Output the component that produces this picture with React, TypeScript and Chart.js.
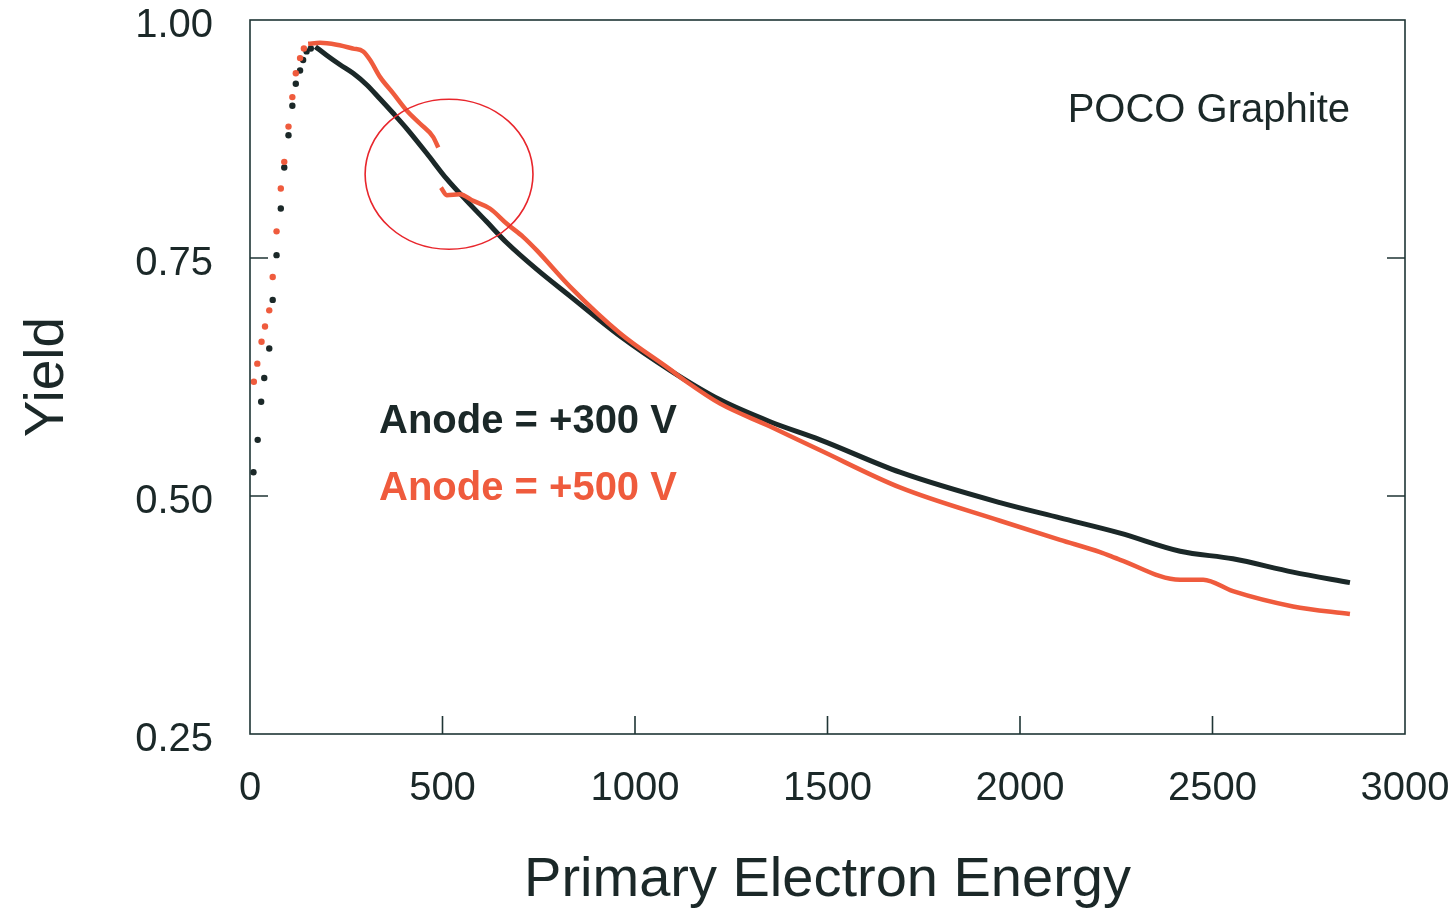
import { useEffect, useRef } from "react";
import { Chart, registerables } from "chart.js";

Chart.register(...registerables);

// ---- Data ----
// Anode = +300 V : sparse dots at low energy, then continuous curve
const energyDots300 = [9, 20, 29, 37, 50, 59, 69, 80, 89, 100, 110, 119, 130, 138, 147, 158];
const yieldDots300 = [0.525, 0.559, 0.599, 0.624, 0.655, 0.706, 0.753, 0.802, 0.845, 0.879, 0.91, 0.933, 0.947, 0.958, 0.967, 0.97];
const energyCurve300 = [170, 199, 234, 268, 303, 338, 372, 407, 459, 511, 563, 615, 667, 745, 831, 961, 1091, 1221, 1351, 1481, 1688, 1948, 2104, 2260, 2416, 2553, 2709, 2857];
const yieldCurve300 = [0.972, 0.963, 0.953, 0.944, 0.932, 0.917, 0.902, 0.886, 0.86, 0.833, 0.81, 0.788, 0.766, 0.738, 0.71, 0.668, 0.632, 0.601, 0.578, 0.559, 0.525, 0.493, 0.477, 0.461, 0.442, 0.434, 0.42, 0.409];

// Anode = +500 V
const energyDots500 = [10, 19, 30, 39, 50, 59, 69, 80, 89, 100, 110, 119, 130, 140];
const yieldDots500 = [0.62, 0.639, 0.662, 0.678, 0.695, 0.73, 0.778, 0.823, 0.851, 0.888, 0.919, 0.944, 0.96, 0.97];
const energyCurve500 = [151, 182, 225, 268, 294, 312, 338, 372, 407, 442, 476, 489, 491, 496, 511, 545, 580, 623, 667, 710, 745, 831, 961, 1091, 1134, 1221, 1351, 1481, 1688, 1948, 2104, 2208, 2260, 2416, 2476, 2553, 2709, 2857];
const yieldCurve500: (number | null)[] = [0.975, 0.976, 0.974, 0.97, 0.967, 0.958, 0.94, 0.923, 0.905, 0.891, 0.877, 0.866, null, 0.824, 0.816, 0.817, 0.81, 0.802, 0.786, 0.772, 0.758, 0.72, 0.671, 0.633, 0.62, 0.597, 0.573, 0.548, 0.509, 0.474, 0.454, 0.441, 0.433, 0.412, 0.412, 0.4, 0.384, 0.376];

// Axis ticks
const xTickStep = 500;
const yTickStep = 0.25;
const xRange = [0, 3000];
const yRange = [0.25, 1.0];

// Highlight ellipse (data units): centre energy, centre yield, radius energy, radius yield
const circleSpec = [517, 0.838, 218, 0.0788];

// Labels
const seriesLabels = ["Anode = +300 V", "Anode = +500 V"];
const sampleLabel = "POCO Graphite";
const xTitle = "Primary Electron Energy";
const yTitle = "Yield";

const BLACK = "#1b2828";
const RED = "#ef5b3d";
const FONT = "'Liberation Sans', Arial, Helvetica, sans-serif";

const zip = (xs: number[], ys: (number | null)[]) => xs.map((x, i) => ({ x, y: ys[i] }));

const overlayPlugin = {
  id: "overlay",
  afterDatasetsDraw(chart: any) {
    const { ctx, chartArea: a, scales } = chart;
    const xs = scales.x;
    const ys = scales.y;
    ctx.save();

    // highlight ellipse
    const cx = xs.getPixelForValue(circleSpec[0]);
    const cy = ys.getPixelForValue(circleSpec[1]);
    const rx = xs.getPixelForValue(circleSpec[0] + circleSpec[2]) - cx;
    const ry = cy - ys.getPixelForValue(circleSpec[1] + circleSpec[3]);
    ctx.strokeStyle = "#e8262c";
    ctx.lineWidth = 1.6;
    ctx.beginPath();
    ctx.ellipse(cx, cy, rx, ry, 0, 0, Math.PI * 2);
    ctx.stroke();

    // frame
    ctx.strokeStyle = "#1f3535";
    ctx.lineWidth = 1.6;
    ctx.strokeRect(a.left, a.top, a.right - a.left, a.bottom - a.top);

    // inward ticks
    const tl = 18;
    ctx.beginPath();
    xs.ticks.forEach((t: any) => {
      if (t.value <= xs.min || t.value >= xs.max) return;
      const px = xs.getPixelForValue(t.value);
      ctx.moveTo(px, a.bottom);
      ctx.lineTo(px, a.bottom - tl);
    });
    ys.ticks.forEach((t: any) => {
      if (t.value <= ys.min || t.value >= ys.max) return;
      const py = ys.getPixelForValue(t.value);
      ctx.moveTo(a.left, py);
      ctx.lineTo(a.left + tl, py);
      ctx.moveTo(a.right, py);
      ctx.lineTo(a.right - tl, py);
    });
    ctx.stroke();

    // annotations
    ctx.textBaseline = "alphabetic";
    ctx.fillStyle = BLACK;
    ctx.font = `40px ${FONT}`;
    ctx.textAlign = "right";
    ctx.fillText(sampleLabel, a.right - 55, a.top + 102);

    ctx.textAlign = "left";
    ctx.font = `bold 40px ${FONT}`;
    ctx.fillStyle = BLACK;
    ctx.fillText(seriesLabels[0], a.left + 129, a.top + 413);
    ctx.fillStyle = RED;
    ctx.fillText(seriesLabels[1], a.left + 129, a.top + 480);

    ctx.restore();
  },
};

const noPad = (s: any) => {
  s.paddingTop = 0;
  s.paddingBottom = 0;
  s.paddingLeft = 0;
  s.paddingRight = 0;
};

export default function App() {
  const ref = useRef<HTMLCanvasElement | null>(null);

  useEffect(() => {
    if (!ref.current) return;
    const chart = new Chart(ref.current, {
      type: "scatter",
      data: {
        datasets: [
          {
            label: seriesLabels[1] + " curve",
            data: zip(energyCurve500, yieldCurve500) as any,
            showLine: true,
            spanGaps: false,
            borderColor: RED,
            borderWidth: 4.5,
            pointRadius: 0,
            cubicInterpolationMode: "monotone",
          },
          {
            label: seriesLabels[1],
            data: zip(energyDots500, yieldDots500) as any,
            showLine: false,
            pointRadius: 3.2,
            pointBorderWidth: 0,
            backgroundColor: RED,
            borderColor: RED,
          },
          {
            label: seriesLabels[0] + " curve",
            data: zip(energyCurve300, yieldCurve300) as any,
            showLine: true,
            borderColor: BLACK,
            borderWidth: 5,
            pointRadius: 0,
            cubicInterpolationMode: "monotone",
          },
          {
            label: seriesLabels[0],
            data: zip(energyDots300, yieldDots300) as any,
            showLine: false,
            pointRadius: 3.2,
            pointBorderWidth: 0,
            backgroundColor: BLACK,
            borderColor: BLACK,
          },
        ],
      },
      options: {
        responsive: false,
        animation: false,
        events: [],
        layout: { padding: { top: 20, right: 49, left: 0, bottom: 0 } },
        plugins: {
          legend: { display: false },
          tooltip: { enabled: false },
        },
        scales: {
          x: {
            type: "linear",
            min: xRange[0],
            max: xRange[1],
            grid: { display: false, drawTicks: false },
            border: { display: false },
            ticks: {
              stepSize: xTickStep,
              padding: 31,
              color: BLACK,
              font: { family: FONT, size: 40 },
              maxRotation: 0,
              autoSkip: false,
              callback: (v: any) => String(v),
            },
            title: {
              display: true,
              text: xTitle,
              color: BLACK,
              font: { family: FONT, size: 56, lineHeight: 1.1 },
              padding: { top: 0, bottom: 0 },
            },
            afterFit: (s: any) => {
              s.height = 177;
              noPad(s);
            },
          },
          y: {
            type: "linear",
            min: yRange[0],
            max: yRange[1],
            grid: { display: false, drawTicks: false },
            border: { display: false },
            ticks: {
              stepSize: yTickStep,
              padding: 37,
              labelOffset: 6,
              color: BLACK,
              font: { family: FONT, size: 40 },
              autoSkip: false,
              callback: (v: any) => Number(v).toFixed(2),
            },
            title: {
              display: true,
              text: yTitle,
              color: BLACK,
              font: { family: FONT, size: 55, lineHeight: 1.2 },
              padding: { top: 15, bottom: 0 },
            },
            afterFit: (s: any) => {
              s.width = 250;
              noPad(s);
            },
          },
        },
      },
      plugins: [overlayPlugin],
    });
    return () => chart.destroy();
  }, []);

  return (
    <div style={{ position: "fixed", left: 0, top: 0, width: 1454, height: 911, background: "#fff" }}>
      <canvas ref={ref} width={1454} height={911} />
    </div>
  );
}
